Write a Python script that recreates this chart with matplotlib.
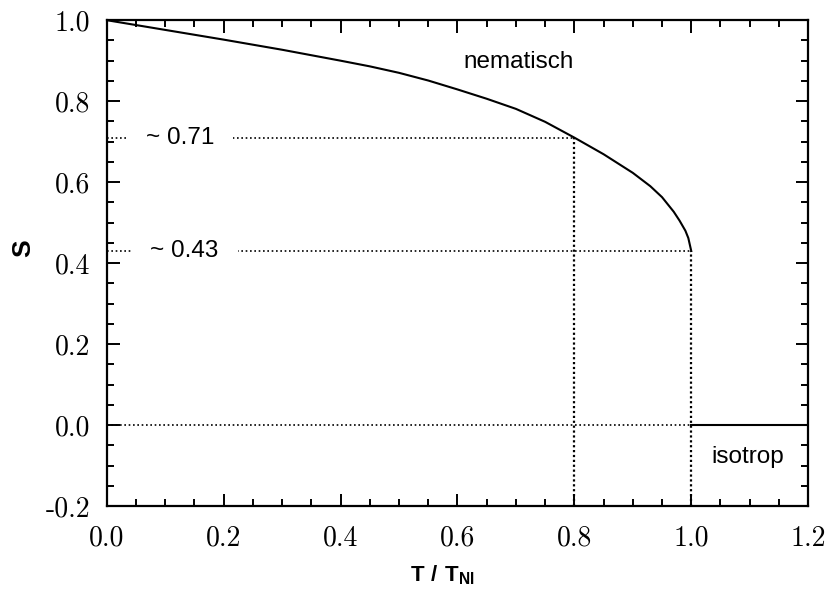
import numpy as np
import matplotlib.pyplot as plt
from matplotlib.ticker import MultipleLocator

plt.rcParams['mathtext.fontset'] = 'custom'
plt.rcParams['mathtext.bf'] = 'Liberation Sans:bold'
plt.rcParams['mathtext.rm'] = 'Liberation Sans'

# order parameter S in the nematic phase
t_nem = [0.0, 0.1, 0.2, 0.3, 0.4, 0.45, 0.5, 0.55, 0.6, 0.65, 0.7, 0.75, 0.8, 0.85, 0.9, 0.93, 0.95, 0.97, 0.98, 0.99, 0.995, 1.0]
s_nem = [1.0, 0.976, 0.952, 0.927, 0.900, 0.886, 0.870, 0.851, 0.829, 0.806, 0.781, 0.749, 0.710, 0.669, 0.623, 0.590, 0.563, 0.527, 0.505, 0.480, 0.462, 0.43]
# isotropic phase
t_iso = [1.0, 1.2]
s_iso = [0.0, 0.0]

xticks = [0.0, 0.2, 0.4, 0.6, 0.8, 1.0, 1.2]
xlabels = ['0.0', '0.2', '0.4', '0.6', '0.8', '1.0', '1.2']
yticks = [-0.2, 0.0, 0.2, 0.4, 0.6, 0.8, 1.0]
ylabels = ['-0.2', '0.0', '0.2', '0.4', '0.6', '0.8', '1.0']

fig = plt.figure(figsize=(8.28, 5.94), dpi=100)
ax = fig.add_axes([0.129, 0.148, 0.847, 0.818])

dot = (0, (1, 1.6))
ax.plot([0, 1.0], [0, 0], color='black', lw=1.2, ls=dot)
ax.plot([0, 0.8], [0.71, 0.71], color='black', lw=1.2, ls=dot)
ax.plot([0, 1.0], [0.43, 0.43], color='black', lw=1.2, ls=dot)
ax.plot([0.8, 0.8], [-0.2, 0.71], color='black', lw=1.6, ls=(0, (1, 1.2)))
ax.plot([1.0, 1.0], [-0.2, 0.43], color='black', lw=1.6, ls=(0, (1, 1.2)))

ax.plot(t_nem, s_nem, color='black', lw=1.5)
ax.plot(t_iso, s_iso, color='black', lw=1.5)

ax.text(0.125, 0.71, '~ 0.71', fontsize=17.5, family='Liberation Sans', ha='center', va='center',
        bbox=dict(facecolor='white', edgecolor='none', boxstyle='square,pad=0.8'))
ax.text(0.133, 0.43, '~ 0.43', fontsize=17.5, family='Liberation Sans', ha='center', va='center',
        bbox=dict(facecolor='white', edgecolor='none', boxstyle='square,pad=0.8'))
ax.text(0.704, 0.896, 'nematisch', fontsize=17.5, family='Liberation Sans', ha='center', va='center',
        bbox=dict(facecolor='white', edgecolor='none', boxstyle='square,pad=0.4'))
ax.text(1.097, -0.079, 'isotrop', fontsize=17.5, family='Liberation Sans', ha='center', va='center',
        bbox=dict(facecolor='white', edgecolor='none', boxstyle='square,pad=0.4'))

ax.set_xlim(0, 1.2)
ax.set_ylim(-0.2, 1.0)
ax.set_xticks(xticks)
ax.set_xticklabels(xlabels, fontfamily='cmr10', fontsize=20)
ax.set_yticks(yticks)
ax.set_yticklabels(ylabels, fontfamily='cmr10', fontsize=20)
ax.xaxis.set_minor_locator(MultipleLocator(0.05))
ax.yaxis.set_minor_locator(MultipleLocator(0.05))
ax.tick_params(which='both', direction='in', top=True, right=True, width=1.4)
ax.tick_params(which='major', length=9)
ax.tick_params(which='minor', length=5)
ax.tick_params(axis='x', which='major', pad=14)
ax.tick_params(axis='y', which='major', pad=12)
for sp in ax.spines.values():
    sp.set_linewidth(1.6)

fig.text(442 / 828, 1 - 575 / 594, r'$\mathbf{T\ /\ T_{NI}}$', fontsize=16, ha='center', va='center')
fig.text(23 / 828, 1 - 248 / 594, 'S', fontsize=19, fontweight='bold', family='Liberation Sans',
         rotation=90, ha='center', va='center')

fig.savefig('out.png', dpi=100)
